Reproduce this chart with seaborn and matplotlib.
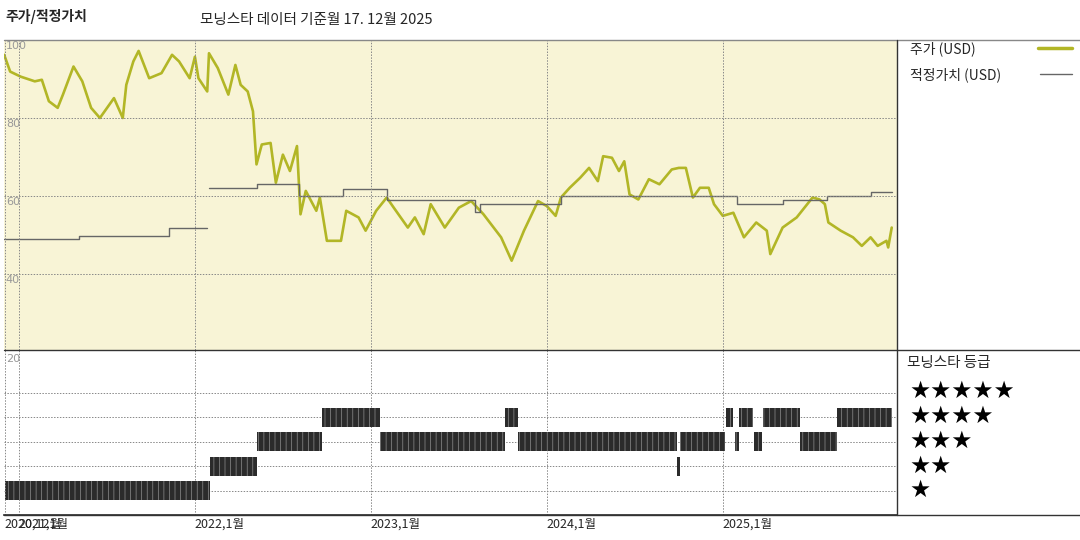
import numpy as np
import pandas as pd
import matplotlib
matplotlib.use("Agg")
import matplotlib.pyplot as plt
import seaborn as sns

# ----------------------------
# Data
# ----------------------------
price_year = [2020.916, 2020.95, 2021.01, 2021.09, 2021.13, 2021.17, 2021.22, 2021.25, 2021.31, 2021.36,
              2021.41, 2021.46, 2021.54, 2021.59, 2021.61, 2021.65, 2021.68, 2021.74, 2021.81, 2021.87,
              2021.91, 2021.97, 2022.00, 2022.02, 2022.07, 2022.08, 2022.13, 2022.19, 2022.23, 2022.26,
              2022.30, 2022.33, 2022.35, 2022.38, 2022.43, 2022.46, 2022.50, 2022.54, 2022.58, 2022.60,
              2022.63, 2022.69, 2022.71, 2022.75, 2022.83, 2022.86, 2022.93, 2022.97, 2023.03, 2023.09,
              2023.13, 2023.21, 2023.25, 2023.30, 2023.34, 2023.42, 2023.50, 2023.57, 2023.64, 2023.74,
              2023.80, 2023.87, 2023.95, 2024.00, 2024.05, 2024.08, 2024.13, 2024.19, 2024.24, 2024.29,
              2024.32, 2024.37, 2024.41, 2024.44, 2024.47, 2024.52, 2024.58, 2024.64, 2024.71, 2024.75,
              2024.79, 2024.83, 2024.87, 2024.92, 2024.95, 2025.00, 2025.06, 2025.12, 2025.19, 2025.25,
              2025.27, 2025.34, 2025.42, 2025.51, 2025.55, 2025.58, 2025.60, 2025.67, 2025.74, 2025.79,
              2025.84, 2025.88, 2025.93, 2025.94, 2025.96]
price_usd = [96.2, 91.9, 90.6, 89.4, 89.8, 84.3, 82.6, 86.0, 93.2, 89.4,
             82.6, 80.0, 85.1, 80.0, 88.5, 94.5, 97.2, 90.2, 91.5, 96.2,
             94.5, 90.2, 95.7, 90.2, 86.8, 96.6, 92.8, 86.0, 93.6, 88.5,
             86.8, 81.7, 68.1, 73.2, 73.6, 63.4, 70.6, 66.4, 72.8, 55.3,
             61.3, 56.2, 59.6, 48.5, 48.5, 56.2, 54.5, 51.1, 56.2, 59.6,
             57.0, 51.9, 54.5, 50.2, 57.9, 51.9, 57.0, 58.7, 55.3, 49.4,
             43.4, 51.1, 58.7, 57.4, 54.9, 59.6, 62.1, 64.7, 67.2, 63.8,
             70.2, 69.8, 66.4, 68.9, 60.4, 59.1, 64.3, 63.0, 66.8, 67.2,
             67.2, 59.6, 62.1, 62.1, 57.9, 54.9, 55.7, 49.4, 53.2, 51.1,
             45.1, 51.9, 54.5, 59.6, 59.1, 57.9, 53.2, 51.1, 49.4, 47.2,
             49.4, 47.2, 48.5, 46.8, 51.9]

# fair value steps (NaN = gap)
fv_year = [2020.916, 2021.34, 2021.85, 2022.07, 2022.08, 2022.35, 2022.59, 2022.84, 2023.09,
           2023.59, 2023.62, 2024.08, 2025.08, 2025.34, 2025.59, 2025.84, 2025.96]
fv_usd = [49.0, 49.8, 51.9, np.nan, 62.0, 63.0, 60.0, 61.9, 59.0,
          56.0, 58.0, 60.0, 57.9, 58.9, 60.0, 61.0, 61.0]

# star rating segments
rating_start = [2020.92, 2022.085, 2022.35, 2022.72, 2023.05, 2023.76, 2023.835, 2024.74, 2024.755,
                2025.02, 2025.07, 2025.09, 2025.18, 2025.23, 2025.44, 2025.65]
rating_end = [2022.085, 2022.35, 2022.72, 2023.05, 2023.76, 2023.835, 2024.74, 2024.755, 2025.01,
              2025.06, 2025.09, 2025.17, 2025.22, 2025.44, 2025.65, 2025.96]
rating_star = [1, 2, 3, 4, 3, 4, 3, 2, 3, 4, 3, 4, 3, 4, 3, 4]

xtick_pos = [2020.92, 2021.0, 2022.0, 2023.0, 2024.0, 2025.0]
xtick_lab = ["2020,12월", "2021,1월", "2022,1월", "2023,1월", "2024,1월", "2025,1월"]
ytick_pos = [100, 80, 60, 40]

# ----------------------------
# Style
# ----------------------------
sns.set_theme(style="white")
plt.rcParams['font.family'] = ['Noto Sans CJK KR', 'DejaVu Sans']
plt.rcParams['hatch.linewidth'] = 0.5

OLIVE = '#b2b626'
GRID = dict(color='#888888', linestyle=(0, (1.5, 1.5)), linewidth=0.7)

fig = plt.figure(figsize=(10.8, 5.4), dpi=100)
L, R = 4 / 1080, 897 / 1080
ax = fig.add_axes([L, 1 - 350 / 540, R - L, 310 / 540])
ax2 = fig.add_axes([L, 1 - 515 / 540, R - L, 165 / 540])

x0, x1 = 2020.915, 2025.99

# ----------------------------
# Top panel: price and fair value
# ----------------------------
ax.set_facecolor('#f8f4d6')
df = pd.DataFrame({'year': price_year, 'price': price_usd})
sns.lineplot(data=df, x='year', y='price', ax=ax, color=OLIVE, linewidth=1.9)
ax.step(fv_year, fv_usd, where='post', color='#666666', linewidth=1)
ax.set_xlim(x0, x1)
ax.set_ylim(20.5, 100)
for v in [80, 60, 40]:
    ax.axhline(v, **GRID)
for xv in xtick_pos[1:]:
    ax.axvline(xv, **GRID)
for v in ytick_pos:
    ax.text(x0 + 0.01, v - 0.3, str(v), color='#999999', fontsize=8, va='top', ha='left',
            family='DejaVu Sans')
ax.set_xticks([]); ax.set_yticks([])
ax.set_xlabel(''); ax.set_ylabel('')
for s in ax.spines.values():
    s.set_visible(False)

# ----------------------------
# Bottom panel: star ratings
# ----------------------------
for s0, s1, r in zip(rating_start, rating_end, rating_star):
    ax2.barh(r, s1 - s0, left=s0, height=0.78, color='#2b2b2b', edgecolor='#8f8f8f',
             hatch='|||', linewidth=0)
ax2.set_xlim(x0, x1)
ax2.set_ylim(0, 6.75)
for r in range(1, 6):
    ax2.axhline(r, zorder=0, **GRID)
for xv in xtick_pos[1:]:
    ax2.axvline(xv, zorder=0, **GRID)
ax2.text(x0 + 0.01, 6.6, '20', color='#999999', fontsize=8, va='top', family='DejaVu Sans')
ax2.set_xticks(xtick_pos)
ax2.set_xticklabels(xtick_lab, fontsize=9, ha='left')
ax2.tick_params(axis='x', length=0, pad=2)
ax2.set_yticks([])
for s in ['top', 'right', 'left']:
    ax2.spines[s].set_visible(False)
ax2.spines['bottom'].set_color('#333333')

# left dotted edge
for a in (ax, ax2):
    a.axvline(x0 + 0.003, **GRID)

# ----------------------------
# Frame lines and right-hand legend
# ----------------------------
lk = dict(color='#333333', linewidth=1, transform=fig.transFigure)
fig.add_artist(plt.Line2D([L, 1], [1 - 40 / 540] * 2, color='#888888', linewidth=1,
                          transform=fig.transFigure))
fig.add_artist(plt.Line2D([L, 1], [1 - 350 / 540] * 2, **lk))
fig.add_artist(plt.Line2D([L, 1], [1 - 515 / 540] * 2, **lk))
fig.add_artist(plt.Line2D([R, R], [1 - 515 / 540, 1 - 40 / 540], **lk))

fig.text(5 / 1080, 1 - 17 / 540, '주가/적정가치', fontsize=10, weight='bold', va='center')
fig.text(200 / 1080, 1 - 20 / 540, '모닝스타 데이터 기준월 17. 12월 2025', fontsize=10.5, va='center')

fig.text(910 / 1080, 1 - 49 / 540, '주가 (USD)', fontsize=10, va='center')
fig.add_artist(plt.Line2D([1038 / 1080, 1072 / 1080], [1 - 48 / 540] * 2, color=OLIVE,
                          linewidth=2.5, transform=fig.transFigure))
fig.text(910 / 1080, 1 - 75 / 540, '적정가치 (USD)', fontsize=10, va='center')
fig.add_artist(plt.Line2D([1040 / 1080, 1072 / 1080], [1 - 74 / 540] * 2, color='#666666',
                          linewidth=1, transform=fig.transFigure))

fig.text(907 / 1080, 1 - 363 / 540, '모닝스타 등급', fontsize=10.5, va='center')
star_rows = [(5, 391), (4, 416), (3, 441), (2, 466), (1, 490)]
for n, yp in star_rows:
    fig.text(909 / 1080, 1 - yp / 540, '★' * n, fontsize=17, va='center', color='black',
             family=['DejaVu Sans'])

fig.savefig('out.png', dpi=100, facecolor='white')
